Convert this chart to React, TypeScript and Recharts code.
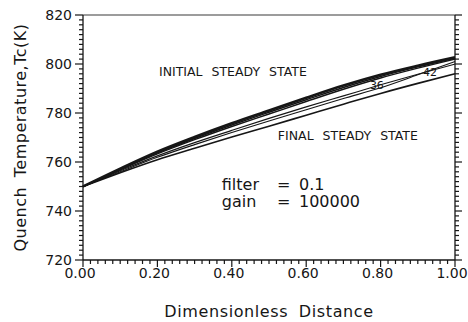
import { Label, Line, LineChart, ReferenceDot, ReferenceLine, XAxis, YAxis } from 'recharts';

// dimensionless distance along the reactor
const X_POS = [0, 0.1, 0.2, 0.3, 0.4, 0.5, 0.6, 0.7, 0.8, 0.9, 1.0];

// temperature profiles, K
const INITIAL = [750, 757.3, 764.2, 770.2, 775.8, 781.0, 786.2, 791.2, 795.6, 799.3, 802.7];
const BUNDLE_B = [750, 757.0, 763.7, 769.6, 775.1, 780.3, 785.4, 790.4, 794.9, 798.8, 802.3];
const BUNDLE_C = [750, 756.8, 763.3, 769.1, 774.5, 779.6, 784.7, 789.7, 794.3, 798.3, 802.0];
const PROFILE_36 = [750, 756.4, 762.5, 767.9, 772.9, 777.8, 782.5, 787.0, 791.5, 795.8, 800.0];
const PROFILE_42 = [750, 756.0, 761.9, 767.1, 772.0, 776.7, 781.3, 785.9, 790.3, 795.6, 801.0];
const FINAL = [750, 755.6, 760.9, 765.6, 770.2, 774.6, 779.1, 783.6, 788.0, 792.1, 796.0];

const X_MAJOR = [0, 0.2, 0.4, 0.6, 0.8, 1];
const X_LABELS = ['0.00', '0.20', '0.40', '0.60', '0.80', '1.00'];
const Y_MAJOR = [720, 740, 760, 780, 800, 820];
const Y_LABELS = ['720', '740', '760', '780', '800', '820'];

const X_TICKS = Array.from({ length: 51 }, (_, i) => i / 50);
const Y_TICKS = Array.from({ length: 51 }, (_, i) => 720 + i * 2);

const data = X_POS.map((x, i) => ({
	x,
	initial: INITIAL[i],
	b: BUNDLE_B[i],
	c: BUNDLE_C[i],
	p36: PROFILE_36[i],
	p42: PROFILE_42[i],
	final: FINAL[i],
}));

const FONT = 'DejaVu Sans, sans-serif';
const INK = '#161616';

// tick mark lengths, in data units (plot is 372 x 245 px)
const X_PER_PX = 1 / 372;
const Y_PER_PX = 100 / 245;

const majorIndex = (list: number[], v: number) => list.findIndex((m) => Math.abs(m - v) < 1e-6);

const XTick = ({ x, y, payload }: any) => {
	const i = majorIndex(X_MAJOR, payload.value);
	if (i < 0) return <g />;
	return (
		<text x={x - 3} y={y + 18} textAnchor="middle" fontSize={14} fontFamily={FONT} fill={INK}>
			{X_LABELS[i]}
		</text>
	);
};

const LeftTick = ({ x, y, payload }: any) => {
	const i = majorIndex(Y_MAJOR, payload.value);
	if (i < 0) return <g />;
	return (
		<text x={x - 11} y={y + 5} textAnchor="end" fontSize={14} fontFamily={FONT} fill={INK}>
			{Y_LABELS[i]}
		</text>
	);
};

type Note = { x: number; y: number; text: string; size: number; anchor: 'start' | 'middle'; spacing?: number };

const NOTES: Note[] = [
	{ x: 0.403, y: 797, text: 'INITIAL STEADY STATE', size: 12.5, anchor: 'middle', spacing: 5 },
	{ x: 0.712, y: 771, text: 'FINAL STEADY STATE', size: 12.5, anchor: 'middle', spacing: 5 },
	{ x: 0.79, y: 791.4, text: '36', size: 11, anchor: 'middle' },
	{ x: 0.933, y: 796.4, text: '42', size: 11, anchor: 'middle' },
	{ x: 0.373, y: 750.9, text: 'filter', size: 16, anchor: 'start' },
	{ x: 0.5215, y: 750.9, text: '=', size: 16, anchor: 'start' },
	{ x: 0.5806, y: 750.9, text: '0.1', size: 16, anchor: 'start' },
	{ x: 0.373, y: 743.8, text: 'gain', size: 16, anchor: 'start' },
	{ x: 0.5215, y: 743.8, text: '=', size: 16, anchor: 'start' },
	{ x: 0.5806, y: 743.8, text: '100000', size: 16, anchor: 'start' },
];

const noteContent = (n: Note) => (props: any) => {
	const vb = props.viewBox ?? {};
	const cx = (vb.x ?? 0) + (vb.width ?? 0) / 2;
	const cy = (vb.y ?? 0) + (vb.height ?? 0) / 2;
	return (
		<text
			x={cx}
			y={cy}
			textAnchor={n.anchor}
			dominantBaseline="central"
			fontSize={n.size}
			fontFamily={FONT}
			fill={INK}
			style={{ wordSpacing: n.spacing ?? 0 }}
		>
			{n.text}
		</text>
	);
};

const xTitle = (props: any) => {
	const vb = props.viewBox;
	return (
		<text
			x={vb.x + vb.width / 2}
			y={vb.y + vb.height - 5}
			textAnchor="middle"
			fontSize={16}
			fontFamily={FONT}
			fill={INK}
			style={{ letterSpacing: 0.6, wordSpacing: 5 }}
		>
			Dimensionless Distance
		</text>
	);
};

const yTitle = (props: any) => {
	const vb = props.viewBox;
	const cx = 20;
	const cy = vb.y + vb.height / 2;
	return (
		<text
			x={cx}
			y={cy}
			transform={`rotate(-90 ${cx} ${cy})`}
			textAnchor="middle"
			dominantBaseline="central"
			fontSize={16}
			fontFamily={FONT}
			fill={INK}
			style={{ letterSpacing: 0.5, wordSpacing: 4 }}
		>
			Quench Temperature,Tc(K)
		</text>
	);
};

const tickStyle = { stroke: INK, strokeWidth: 1.2, ifOverflow: 'visible' as const, yAxisId: 'left' };

export default function App() {
	return (
		<div style={{ position: 'fixed', left: 0, top: 0, background: '#fff' }}>
			<LineChart width={468} height={322} data={data} margin={{ top: 15, right: 13, bottom: 0, left: 0 }}>
				<XAxis
					dataKey="x"
					type="number"
					domain={[0, 1]}
					ticks={X_TICKS}
					interval={0}
					tickSize={0}
					tickMargin={0}
					tickLine={false}
					tick={<XTick />}
					height={62}
					stroke={INK}
					strokeWidth={1.3}
				>
					<Label content={xTitle} />
				</XAxis>
				<YAxis
					yAxisId="left"
					type="number"
					domain={[720, 820]}
					ticks={Y_TICKS}
					interval={0}
					tickSize={0}
					tickMargin={0}
					tickLine={false}
					tick={<LeftTick />}
					width={83}
					stroke={INK}
					strokeWidth={1.3}
				>
					<Label content={yTitle} />
				</YAxis>

				{/* frame: top and right edges */}
				<ReferenceLine yAxisId="left" y={820} stroke="#3a3a3a" strokeWidth={1.2} />
				<ReferenceLine yAxisId="left" x={1} stroke={INK} strokeWidth={1.3} />

				{/* outward tick marks on bottom, left and right edges */}
				{X_TICKS.map((v) => {
					const len = (majorIndex(X_MAJOR, v) >= 0 ? 7 : 4) * Y_PER_PX;
					return <ReferenceLine key={`xt${v}`} {...tickStyle} segment={[{ x: v, y: 720 }, { x: v, y: 720 - len }]} />;
				})}
				{Y_TICKS.map((v) => {
					const major = majorIndex(Y_MAJOR, v) >= 0;
					return (
						<ReferenceLine
							key={`yl${v}`}
							{...tickStyle}
							segment={[{ x: 0, y: v }, { x: -(major ? 8 : 4) * X_PER_PX, y: v }]}
						/>
					);
				})}
				{Y_TICKS.map((v) => {
					const major = majorIndex(Y_MAJOR, v) >= 0;
					return (
						<ReferenceLine
							key={`yr${v}`}
							{...tickStyle}
							segment={[{ x: 1, y: v }, { x: 1 + (major ? 7 : 4) * X_PER_PX, y: v }]}
						/>
					);
				})}

				<Line yAxisId="left" dataKey="final" type="monotone" stroke={INK} strokeWidth={1.6} dot={false} isAnimationActive={false} />
				<Line yAxisId="left" dataKey="p42" type="monotone" stroke={INK} strokeWidth={1.1} dot={false} isAnimationActive={false} />
				<Line yAxisId="left" dataKey="p36" type="monotone" stroke={INK} strokeWidth={1.1} dot={false} isAnimationActive={false} />
				<Line yAxisId="left" dataKey="c" type="monotone" stroke={INK} strokeWidth={1.4} dot={false} isAnimationActive={false} />
				<Line yAxisId="left" dataKey="b" type="monotone" stroke={INK} strokeWidth={1.4} dot={false} isAnimationActive={false} />
				<Line yAxisId="left" dataKey="initial" type="monotone" stroke={INK} strokeWidth={2.6} dot={false} isAnimationActive={false} />
				{NOTES.map((n, i) => (
					<ReferenceDot key={i} yAxisId="left" x={n.x} y={n.y} r={0} fill="none" stroke="none" label={noteContent(n)} />
				))}
			</LineChart>
		</div>
	);
}
